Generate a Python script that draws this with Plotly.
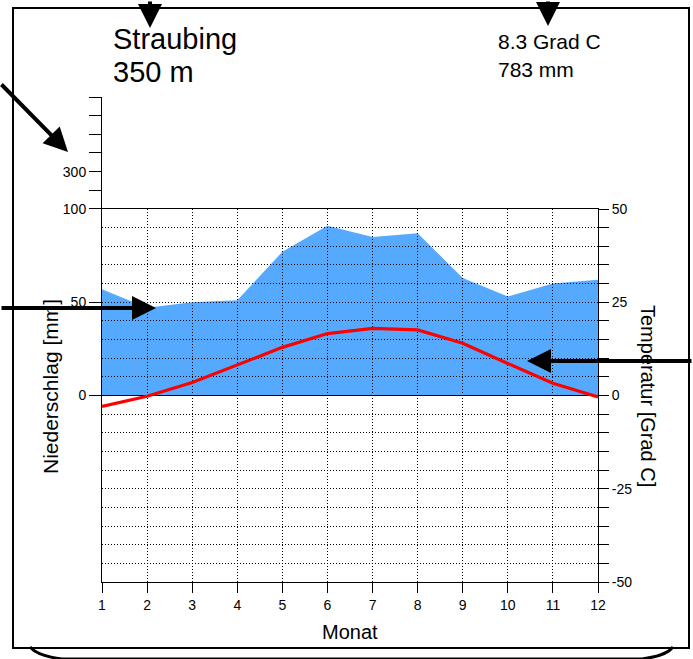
import plotly.graph_objects as go

# ---- data ----
months = [1, 2, 3, 4, 5, 6, 7, 8, 9, 10, 11, 12]
precip_mm = [57, 47, 50, 51, 77, 91, 85, 87, 63, 53, 60, 62]
temp_c = [-2.9, -0.2, 3.5, 8.3, 12.9, 16.6, 18.0, 17.6, 14.0, 8.6, 3.3, -0.4]
station = "Straubing"
elevation = "350 m"
mean_temp_text = "8.3 Grad C"
annual_precip_text = "783 mm"
left_tickvals = [0, 50, 100, 110, 120, 130, 140, 150, 160]
left_ticktext = ["0", "50", "100", "", "300", "", "", "", ""]
right_tickvals = list(range(-50, 55, 5))
right_ticktext = [str(v) if v % 25 == 0 else "" for v in right_tickvals]

# ---- geometry (pixels) ----
W, H = 693, 659
L, R, T, B = 102, 598, 97, 582
FONT = "Liberation Sans, Arial, Helvetica, sans-serif"
DOT = "1px,2px"


def pp(px, py):
    return ((px - L) / (R - L), (B - py) / (B - T))


y2_top = (B - 209) / (B - T)

fig = go.Figure()
fig.add_trace(go.Scatter(x=months, y=precip_mm, xaxis="x", yaxis="y", mode="lines",
                         line=dict(width=0, color="#55AAFF"), fill="tozeroy",
                         fillcolor="#55AAFF", hoverinfo="skip", showlegend=False))
fig.add_trace(go.Scatter(x=months, y=temp_c, xaxis="x2", yaxis="y2", mode="lines",
                         line=dict(width=3.2, color="#FF0000"), showlegend=False))

tickfont = dict(family=FONT, size=14, color="black")
fig.update_layout(
    width=W, height=H,
    margin=dict(l=L, r=W - R, t=T, b=H - B, pad=0),
    paper_bgcolor="white", plot_bgcolor="rgba(0,0,0,0)",
    showlegend=False,
    xaxis=dict(domain=[0, 1], range=[1, 12], anchor="y", showgrid=False, zeroline=False,
               tickvals=months, ticks="outside", ticklen=10, tickcolor="black", tickwidth=1,
               showline=True, linecolor="black", linewidth=1, tickfont=tickfont),
    yaxis=dict(domain=[0, 1], range=[-100, 160], anchor="x", showgrid=False, zeroline=False,
               tickvals=left_tickvals, ticktext=left_ticktext, ticks="outside", ticklen=12,
               tickcolor="black", showline=True, linecolor="black", linewidth=1,
               tickfont=tickfont),
    xaxis2=dict(domain=[0, 1], range=[1, 12], anchor="y2", showgrid=True, gridcolor="black",
                griddash=DOT, gridwidth=1, tick0=1, dtick=1, showticklabels=False,
                ticks="", zeroline=False, showline=True, mirror=True, linecolor="black",
                linewidth=1),
    yaxis2=dict(domain=[0, y2_top], range=[-50, 50], anchor="x2", side="right",
                showgrid=True, gridcolor="black", griddash=DOT, gridwidth=1,
                tickvals=right_tickvals, ticktext=right_ticktext, ticks="outside", ticklen=10,
                tickcolor="black", zeroline=True, zerolinecolor="black", zerolinewidth=1,
                showline=True, linecolor="black", linewidth=1, tickfont=tickfont),
)

annotations = []


def text(px, py, s, size, angle=0, xanchor="center"):
    x, y = pp(px, py)
    annotations.append(dict(x=x, y=y, xref="paper", yref="paper", text=s, showarrow=False,
                            textangle=angle, xanchor=xanchor, yanchor="middle",
                            font=dict(family=FONT, size=size, color="black")))


text(111, 39, station, 29, xanchor="left")
text(111, 72, elevation, 29, xanchor="left")
text(496, 42, mean_temp_text, 21, xanchor="left")
text(496, 69, annual_precip_text, 21, xanchor="left")
text(50, 387, "Niederschlag [mm]", 21, angle=-90)
text(648, 396, "Temperatur [Grad C]", 20, angle=90)
text(350, 632, "Monat", 20)


def arrow(tipx, tipy, tailx, taily):
    x, y = pp(tipx, tipy)
    annotations.append(dict(x=x, y=y, xref="paper", yref="paper", text="", showarrow=True,
                            ax=tailx - tipx, ay=taily - tipy, axref="pixel", ayref="pixel",
                            arrowhead=2, arrowsize=1.2, arrowwidth=4, arrowcolor="black",
                            standoff=0, startstandoff=0))


arrow(150, 28, 150, -10)
arrow(548, 26, 548, -10)
arrow(68, 152, -4, 83)
arrow(156, 308, -10, 308)
arrow(527, 361, 705, 361)

fig.update_layout(annotations=annotations)

# frame
x0, y0 = pp(13, 648)
x1, y1 = pp(689, 8)
shapes = [dict(type="rect", xref="paper", yref="paper", x0=x0, y0=y0, x1=x1, y1=y1,
               line=dict(color="black", width=2), fillcolor="rgba(0,0,0,0)", layer="below")]

# brace at bottom
pts = [pp(30, 647), pp(38, 656), pp(62, 659), pp(642, 659), pp(666, 656), pp(673, 647)]
path = ("M {0[0]},{0[1]} Q {1[0]},{1[1]} {2[0]},{2[1]} L {3[0]},{3[1]} "
        "Q {4[0]},{4[1]} {5[0]},{5[1]}").format(*pts)
shapes.append(dict(type="path", xref="paper", yref="paper", path=path,
                   line=dict(color="black", width=3)))
fig.update_layout(shapes=shapes)

fig.write_html("out.html", config={"displayModeBar": False},
               post_script="document.body.style.margin='0';document.body.style.overflow='hidden';")
